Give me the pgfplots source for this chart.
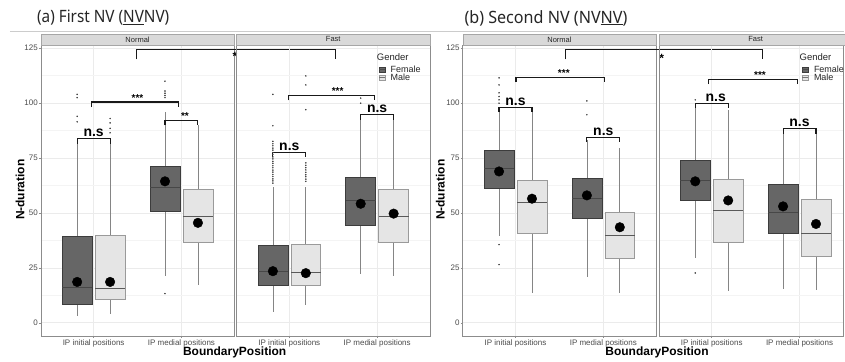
\documentclass[border=0pt]{standalone}
\usepackage{fontspec}
\setmainfont{Liberation Sans}
\newfontfamily\titlefont{Noto Sans}
\usepackage{pgfplots}
\pgfplotsset{compat=1.18}
\usepgfplotslibrary{statistics}

\definecolor{fem}{HTML}{666666}
\definecolor{femline}{HTML}{3C3C3C}
\definecolor{mal}{HTML}{E5E5E5}
\definecolor{malline}{HTML}{9A9A9A}
\definecolor{whisk}{HTML}{858585}
\definecolor{gridc}{HTML}{EBEBEB}
\definecolor{gridm}{HTML}{F4F4F4}
\definecolor{borderc}{HTML}{8C8C8C}
\definecolor{stripc}{HTML}{D9D9D9}

\tikzset{brk/.style={draw=black!90, line width=1.1pt}}
\pgfplotsset{
  facet/.style={
    scale only axis, width=193.5pt, height=291.7pt,
    anchor=south west,
    xmin=0.4, xmax=2.6, ymin=-6.1, ymax=126.5,
    xtick={1,2}, xticklabels={IP initial positions, IP medial positions},
    ytick={0,25,50,75,100,125},
    minor ytick={12.5,37.5,62.5,87.5,112.5},
    grid=both,
    major grid style={draw=gridc, line width=0.6pt},
    minor grid style={draw=gridm, line width=0.4pt},
    axis line style={draw=borderc, line width=0.7pt},
    tick style={draw=borderc, line width=0.5pt},
    tick align=outside, major tick length=2pt, minor tick length=0pt,
    tick pos=left,
    tick label style={font=\fontsize{8}{9}\selectfont, text=black!70, inner sep=1pt},
    /pgf/number format/assume math mode=true,
    clip=false,
    boxplot/draw direction=y,
  },
  nolab/.style={yticklabels={}, ytick style={draw=none}},
  boxF/.style={mark=*, mark size=0.55pt, mark options={draw=black!75, fill=black!75},
    boxplot/every box/.style={draw=femline, fill=fem, line width=0.6pt},
    boxplot/every whisker/.style={draw=whisk, line width=0.7pt},
    boxplot/every median/.style={draw=black!72, line width=0.9pt}},
  boxM/.style={mark=*, mark size=0.55pt, mark options={draw=black!75, fill=black!75},
    boxplot/every box/.style={draw=malline, fill=mal, line width=0.6pt},
    boxplot/every whisker/.style={draw=whisk, line width=0.7pt},
    boxplot/every median/.style={draw=black!65, line width=0.9pt}},
  meanst/.style={only marks, mark=*, mark size=4.8pt, mark options={draw=black, fill=black}},
}

% style, pos, lw, lq, med, uq, uw, outliers
\newcommand{\bxo}[8]{\addplot[#1, boxplot prepared={draw position=#2, lower whisker=#3, lower quartile=#4, median=#5, upper quartile=#6, upper whisker=#7, box extend=0.34, whisker extend=0}] table[row sep=\\, y index=0] {v\\ #8};}
\newcommand{\bxn}[7]{\addplot[#1, boxplot prepared={draw position=#2, lower whisker=#3, lower quartile=#4, median=#5, upper quartile=#6, upper whisker=#7, box extend=0.34, whisker extend=0}] coordinates {};}
% x1, x2, y, leg length
\newcommand{\brkt}[4]{\draw[brk] ([yshift=-#4]axis cs:#1,#3) -- (axis cs:#1,#3) -- (axis cs:#2,#3) -- ([yshift=-#4]axis cs:#2,#3);}
\newcommand{\nsl}[3]{\node[font=\bfseries\fontsize{14}{14}\selectfont, anchor=base, inner sep=0pt, yshift=2pt] at (axis cs:#1,#2) {#3};}
\newcommand{\stl}[3]{\node[font=\bfseries\fontsize{10}{10}\selectfont, anchor=base, inner sep=0pt, yshift=1pt] at (axis cs:#1,#2) {#3};}

\begin{document}
\begin{tikzpicture}
\begin{scope}[x=1pt, y=1pt]
\path[use as bounding box] (0,0) rectangle (845,360);
\fill[white] (0,0) rectangle (845,360);
\draw[black!20, line width=0.6pt] (10,328.5) -- (845,328.5);
\end{scope}

% ---------------- Panel (a) ----------------
\begin{axis}[facet, at={(41pt,23.3pt)}]
  \bxo{boxF}{0.8125}{3.3}{8.6}{16.2}{39.4}{82}{91.5\\ 94\\ 102.5\\ 104\\}
  \bxo{boxM}{1.1875}{3.8}{10.6}{15.5}{39.7}{82}{86.5\\ 88.5\\ 91\\ 93\\}
  \bxo{boxF}{1.8125}{21.2}{50.6}{61.8}{71.2}{96}{13.3\\ 102.5\\ 103.5\\ 104.5\\ 105.5\\ 110\\}
  \bxn{boxM}{2.1875}{17.4}{36.8}{48.2}{61.0}{90}
  \addplot[meanst] coordinates {(0.8125,18.6) (1.1875,18.6) (1.8125,64.4) (2.1875,45.5)};
  \brkt{0.8125}{1.1875}{83.8}{5pt}
  \nsl{1.0}{83.8}{n.s}
  \brkt{1.8125}{2.1875}{92.1}{5pt}
  \stl{2.04}{92.1}{**}
  \brkt{0.98}{1.97}{100.5}{5pt}
  \stl{1.5}{100.5}{***}
  \brkt{1.49}{3.75}{124.5}{10pt}
  \node[font=\bfseries\fontsize{12}{12}\selectfont, inner sep=0pt] at (axis cs:2.61,121.2) {*};
\end{axis}

\begin{axis}[facet, nolab, at={(237pt,23.3pt)}]
  \bxo{boxF}{0.8125}{5.0}{17.0}{23.2}{35.1}{62}{63.6\\ 64.6\\ 65.5\\ 66.6\\ 67.5\\ 68.6\\ 69.5\\ 70.6\\ 71.5\\ 72.6\\ 73.5\\ 74.6\\ 75.5\\ 76.6\\ 77.5\\ 78.6\\ 79.5\\ 80.6\\ 81.5\\ 82.6\\ 89.7\\ 104\\}
  \bxo{boxM}{1.1875}{7.9}{17.0}{22.7}{35.6}{62}{64.4\\ 65.4\\ 66.5\\ 67.4\\ 68.5\\ 69.6\\ 70.6\\ 71.7\\ 72.8\\ 97\\ 108.3\\ 112.4\\}
  \bxo{boxF}{1.8125}{22.4}{44.2}{55.6}{66.4}{94}{100\\ 102.3\\}
  \bxn{boxM}{2.1875}{21.5}{36.6}{48.5}{60.9}{94}
  \addplot[meanst] coordinates {(0.8125,23.5) (1.1875,22.6) (1.8125,54.2) (2.1875,49.7)};
  \brkt{0.8125}{1.1875}{77.7}{5pt}
  \nsl{1.0}{77.7}{n.s}
  \brkt{0.99}{1.97}{103.5}{5pt}
  \stl{1.55}{103.5}{***}
  \brkt{1.8125}{2.1875}{94.7}{5pt}
  \nsl{2.0}{94.7}{n.s}
\end{axis}

% ---------------- Panel (b) ----------------
\begin{axis}[facet, at={(463.5pt,23.3pt)}]
  \bxo{boxF}{0.8125}{39.4}{61.3}{70.1}{78.5}{97}{26.5\\ 35.6\\ 100\\ 101.5\\ 103\\ 104.7\\ 108.3\\ 111.5\\}
  \bxn{boxM}{1.1875}{13.6}{40.9}{55.0}{64.8}{96}
  \bxo{boxF}{1.8125}{20.9}{47.7}{56.8}{65.9}{83}{94.7\\ 101\\}
  \bxn{boxM}{2.1875}{13.6}{29.5}{39.7}{50.3}{79.8}
  \addplot[meanst] coordinates {(0.8125,68.9) (1.1875,56.5) (1.8125,58.0) (2.1875,43.5)};
  \brkt{0.8125}{1.1875}{98.2}{5pt}
  \nsl{1.0}{98.2}{n.s}
  \brkt{1.8125}{2.1875}{84.5}{5pt}
  \nsl{2.0}{84.5}{n.s}
  \brkt{1.005}{2.01}{111.8}{5pt}
  \stl{1.55}{111.8}{***}
  \brkt{1.565}{3.81}{124.5}{10pt}
  \node[font=\bfseries\fontsize{12}{12}\selectfont, inner sep=0pt] at (axis cs:2.665,120.5) {*};
\end{axis}

\begin{axis}[facet, nolab, at={(660pt,23.3pt)}, width=185pt, xmax=2.5035]
  \bxo{boxF}{0.8125}{29.5}{55.7}{64.8}{73.8}{99}{22.7\\ 101.5\\}
  \bxn{boxM}{1.1875}{14.4}{36.6}{51.2}{65.1}{97}
  \bxn{boxF}{1.8125}{15.5}{40.9}{50.3}{63.2}{86}
  \bxn{boxM}{2.1875}{14.8}{30.3}{40.5}{56.0}{86}
  \addplot[meanst] coordinates {(0.8125,64.4) (1.1875,55.7) (1.8125,53.0) (2.1875,45.0)};
  \brkt{0.8125}{1.1875}{100}{5pt}
  \nsl{1.045}{100}{n.s}
  \brkt{0.968}{1.975}{110.9}{5pt}
  \stl{1.55}{110.9}{***}
  \brkt{1.8125}{2.1875}{88.3}{5pt}
  \nsl{2.0}{88.3}{n.s}
\end{axis}

\begin{scope}[x=1pt, y=1pt]
% titles
\node[anchor=west, font=\titlefont\fontsize{17}{17}\selectfont, text=black!85, inner sep=0pt, xscale=0.9] at (37,342) {(a) First NV (\underline{NV}NV)};
\node[anchor=west, font=\titlefont\fontsize{17}{17}\selectfont, text=black!85, inner sep=0pt, xscale=0.95] at (465,342) {(b) Second NV (NV\underline{NV})};

% strips
\draw[fill=stripc, draw=black!35, line width=0.5pt] (41,315) rectangle (234.5,326);
\node[font=\fontsize{7.5}{8}\selectfont, text=black!85] at (137.75,320.5) {Normal};
\draw[fill=stripc, draw=black!35, line width=0.5pt] (237,315) rectangle (430.5,326);
\node[font=\fontsize{7.5}{8}\selectfont, text=black!85] at (333.75,320.5) {Fast};
\draw[fill=stripc, draw=black!35, line width=0.5pt] (463.5,315) rectangle (657,326);
\node[font=\fontsize{7.5}{8}\selectfont, text=black!85] at (560.25,320.5) {Normal};
\draw[fill=stripc, draw=black!35, line width=0.5pt] (660,315) rectangle (846,326);
\node[font=\fontsize{7.5}{8}\selectfont, text=black!85] at (756.75,320.5) {Fast};

% legends
\node[anchor=west, font=\fontsize{9.5}{10}\selectfont, text=black!85, inner sep=0pt] at (377.3,303) {Gender};
\draw[fill=fem, draw=femline, line width=0.4pt] (380,288) rectangle (385.5,292.5);
\draw[black!70, line width=0.4pt] (380,290.2) -- (385.5,290.2);
\node[anchor=west, font=\fontsize{9}{9}\selectfont, text=black!85, inner sep=0pt] at (391,290.3) {Female};
\draw[fill=mal, draw=malline, line width=0.4pt] (380,280) rectangle (385.5,284.5);
\draw[black!55, line width=0.4pt] (380,282.2) -- (385.5,282.2);
\node[anchor=west, font=\fontsize{9}{9}\selectfont, text=black!85, inner sep=0pt] at (391,282.3) {Male};

\node[anchor=west, font=\fontsize{9.5}{10}\selectfont, text=black!85, inner sep=0pt] at (800.7,303) {Gender};
\draw[fill=fem, draw=femline, line width=0.4pt] (803.5,288) rectangle (809,292.5);
\draw[black!70, line width=0.4pt] (803.5,290.2) -- (809,290.2);
\node[anchor=west, font=\fontsize{9}{9}\selectfont, text=black!85, inner sep=0pt] at (815,290.3) {Female};
\draw[fill=mal, draw=malline, line width=0.4pt] (803.5,280) rectangle (809,284.5);
\draw[black!55, line width=0.4pt] (803.5,282.2) -- (809,282.2);
\node[anchor=west, font=\fontsize{9}{9}\selectfont, text=black!85, inner sep=0pt] at (815,282.3) {Male};

% axis titles
\node[rotate=90, font=\bfseries\fontsize{12}{12}\selectfont] at (20,170) {N-duration};
\node[font=\bfseries\fontsize{12}{12}\selectfont] at (235,7) {BoundaryPosition};
\node[rotate=90, font=\bfseries\fontsize{12}{12}\selectfont] at (441,170) {N-duration};
\node[font=\bfseries\fontsize{12}{12}\selectfont] at (658,7) {BoundaryPosition};
\end{scope}
\end{tikzpicture}
\end{document}
